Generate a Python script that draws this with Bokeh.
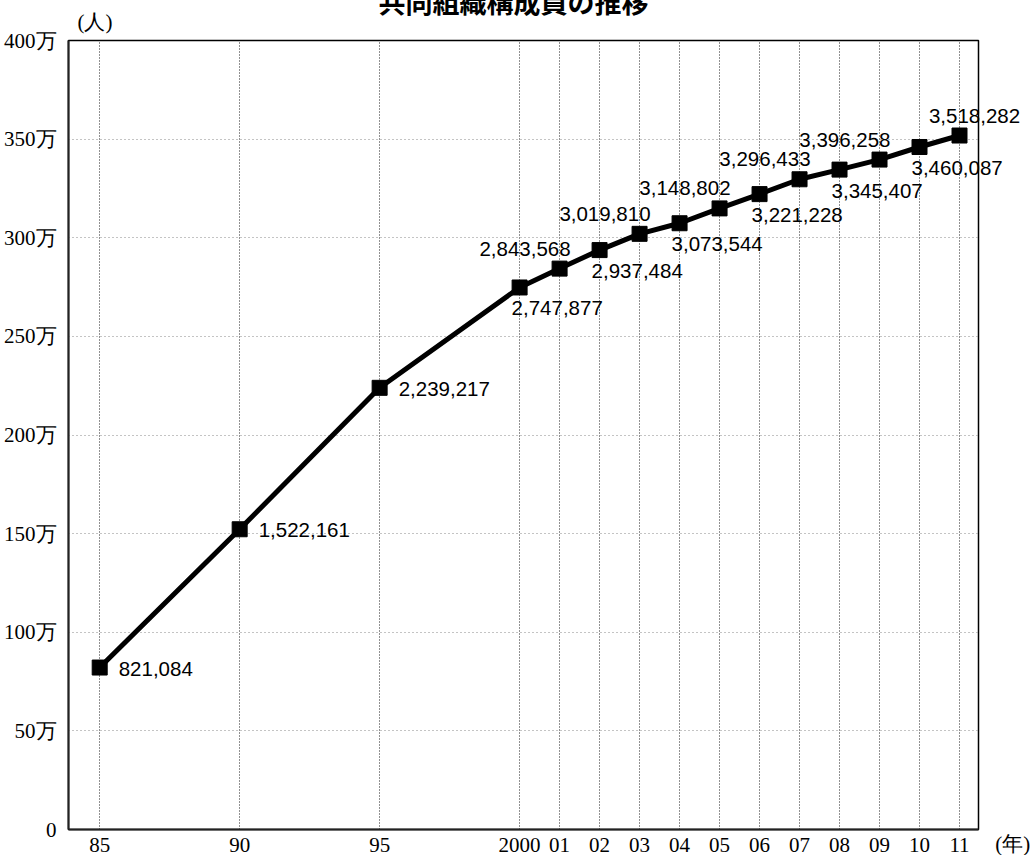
from bokeh.plotting import figure
from bokeh.models import ColumnDataSource, FixedTicker, Range1d
from bokeh.core.properties import value
from bokeh.embed import file_html
from bokeh.resources import INLINE

# 共同組織構成員数（人）
years = [1985, 1990, 1995, 2000, 2001, 2002, 2003, 2004, 2005,
         2006, 2007, 2008, 2009, 2010, 2011]
year_labels = ["85", "90", "95", "2000", "01", "02", "03", "04", "05",
               "06", "07", "08", "09", "10", "11"]
members = [821084, 1522161, 2239217, 2747877, 2843568, 2937484, 3019810,
           3073544, 3148802, 3221228, 3296433, 3345407, 3396258, 3460087,
           3518282]
# where each value label sits relative to its marker
label_side = ["right", "right", "right", "below", "above", "below", "above",
              "below", "above", "below", "above", "below", "above", "below",
              "top"]
y_ticks = [0, 500000, 1000000, 1500000, 2000000, 2500000, 3000000,
           3500000, 4000000]
y_tick_labels = ["0", "50万", "100万", "150万", "200万", "250万", "300万",
                 "350万", "400万"]
title_text = "共同組織構成員の推移"
y_unit = "(人)"
x_unit = "(年)"


def axis_pos(year):
    # five-year steps before 2000 are drawn 3.5 slots wide, then one per year
    if year <= 2000:
        return (year - 1985) * 0.7
    return 10.5 + (year - 2000)


xs = [axis_pos(y) for y in years]

offsets = {
    "right": (19, 1, "left"),
    "below": (-8, 21, "left"),
    "above": (11, -20, "right"),
    "top": (15, -20, "center"),
}
src = ColumnDataSource(dict(
    x=xs,
    y=members,
    txt=[f"{v:,}" for v in members],
    dx=[offsets[s][0] for s in label_side],
    dy=[offsets[s][1] for s in label_side],
    align=[offsets[s][2] for s in label_side],
))

SERIF = "Liberation Serif"
X0, X1 = -0.78, 21.975
Y0, Y1 = 0, 4000000

p = figure(width=1034, height=855, output_backend="svg", toolbar_location=None,
           x_range=Range1d(X0, X1), y_range=Range1d(Y0, Y1),
           min_border_left=68, min_border_right=56, min_border_top=40,
           min_border_bottom=26, background_fill_color="white",
           border_fill_color="white")

p.outline_line_color = "black"
p.outline_line_width = 1.5
p.outline_line_alpha = 1.0

# axes
p.xaxis.ticker = FixedTicker(ticks=xs)
p.xaxis.major_label_overrides = {x: lab for x, lab in zip(xs, year_labels)}
p.yaxis.ticker = FixedTicker(ticks=y_ticks)
p.yaxis.major_label_overrides = {t: lab for t, lab in zip(y_ticks, y_tick_labels)}
for ax in (p.xaxis, p.yaxis):
    ax.axis_line_color = "#222222"
    ax.axis_line_width = 2
    ax.major_tick_line_color = None
    ax.minor_tick_line_color = None
    ax.major_label_text_font = SERIF
    ax.major_label_text_font_size = "21px"
    ax.major_label_text_color = "black"
p.xaxis.major_label_standoff = 2
p.yaxis.major_label_standoff = 6

# dotted grid
p.xgrid.grid_line_color = "#222222"
p.xgrid.grid_line_dash = "1 2"
p.xgrid.grid_line_width = 1
p.ygrid.grid_line_color = "#888888"
p.ygrid.grid_line_dash = "1 3"
p.ygrid.grid_line_width = 1

# series
p.line("x", "y", source=src, line_color="black", line_width=5)
p.scatter("x", "y", source=src, marker="square", size=15,
          fill_color="black", line_color="black")
value_labels = p.text("x", "y", text="txt", source=src, x_offset="dx",
                      y_offset="dy", text_align="align",
                      text_baseline="middle",
                      text_font=value("Liberation Sans"),
                      text_font_size="20.5px", text_color="black")
value_labels.level = "overlay"

# title above the frame, partly running off the top edge
title_r = p.text(x=[(X0 + X1) / 2 - 0.25], y=[Y1 + 200000], text=[title_text],
                 text_align="center", text_baseline="middle",
                 text_font=value("Noto Sans CJK JP"), text_font_style="bold",
                 text_font_size="27px", text_color="black")
title_r.level = "overlay"

# unit captions
yunit_r = p.text(x=[X0 + 0.225], y=[Y1 + 94000], text=[y_unit],
                 text_align="left", text_baseline="middle",
                 text_font=value(SERIF), text_font_size="21px",
                 text_color="black")
yunit_r.level = "overlay"
xunit_r = p.text(x=[X1 + 0.42], y=[Y0 - 76000], text=[x_unit],
                 text_align="left", text_baseline="middle",
                 text_font=value(SERIF), text_font_size="21px",
                 text_color="black")
xunit_r.level = "overlay"

open("out.html", "w").write(file_html(p, INLINE))
